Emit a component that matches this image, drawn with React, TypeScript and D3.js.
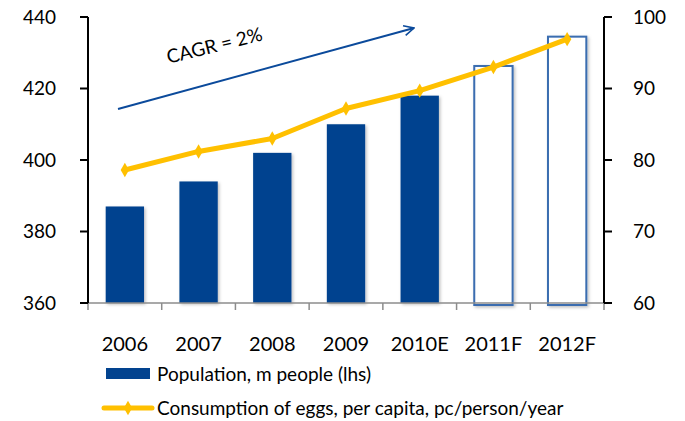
import React from 'react';
import * as d3 from 'd3';

const years = ['2006', '2007', '2008', '2009', '2010E', '2011F', '2012F'];
const population = [387, 394, 402, 410, 418, 426.3, 434.5];
const forecast = [false, false, false, false, false, true, true];
const eggs = [78.6, 81.2, 83.0, 87.2, 89.7, 93.0, 96.9];
const leftTicks = [360, 380, 400, 420, 440];
const rightTicks = [60, 70, 80, 90, 100];

const FONT = 'Lato, "Open Sans", sans-serif';

function App() {
  const margin = { top: 17, left: 88, right: 81, bottom: 118 };
  const W = 685;
  const H = 421;
  const x0 = margin.left;
  const x1 = W - margin.right;
  const yTop = margin.top;
  const yBot = H - margin.bottom;

  const x = d3.scaleBand().domain(years).range([x0, x1]).paddingInner(0.48).paddingOuter(0.24);
  const band = d3.scaleBand().domain(years).range([x0, x1]);
  const yL = d3.scaleLinear().domain([360, 440]).range([yBot, yTop]);
  const yR = d3.scaleLinear().domain([60, 100]).range([yBot, yTop]);

  const line = d3.line<number>()
    .x((_, i) => band(years[i])! + band.bandwidth() / 2)
    .y(d => yR(d));

  const diamond = d3.symbol().type(d3.symbolDiamond).size(60)();

  const blue = '#02438f';
  const outline = '#3a6db0';
  const yellow = '#ffc000';

  return (
    <svg width={W} height={H} style={{ position: 'absolute', left: 0, top: 0, background: '#fff' }}>
      <defs>
        <filter id="sh" x="-20%" y="-5%" width="140%" height="110%">
          <feDropShadow dx="1.5" dy="1.5" stdDeviation="1.5" floodColor="#000" floodOpacity="0.25" />
        </filter>
        <marker id="arr" viewBox="0 0 12 12" refX="11" refY="6" markerWidth="12" markerHeight="12"
          markerUnits="userSpaceOnUse" orient="auto">
          <path d="M1,1 L11,6 L1,11" fill="none" stroke="#0b4a9b" strokeWidth="1.6" />
        </marker>
      </defs>

      {/* bars */}
      {years.map((yr, i) =>
        forecast[i] ? (
          <rect key={yr} x={x(yr)} y={yL(population[i])} width={x.bandwidth()}
            height={yBot + 2 - yL(population[i])} fill="#fff" stroke={outline} strokeWidth={2}
            filter="url(#sh)" />
        ) : (
          <rect key={yr} x={x(yr)} y={yL(population[i])} width={x.bandwidth()}
            height={yBot - yL(population[i])} fill={blue} filter="url(#sh)" />
        )
      )}

      {/* bottom axis */}
      <line x1={x0} x2={x1} y1={yBot} y2={yBot} stroke="#8c8c8c" strokeWidth={1.5} />
      {years.map(yr => (
        <line key={yr} x1={band(yr)} x2={band(yr)} y1={yBot} y2={yBot + 7} stroke="#8c8c8c" strokeWidth={1.5} />
      ))}
      <line x1={x1} x2={x1} y1={yBot} y2={yBot + 7} stroke="#8c8c8c" strokeWidth={1.5} />
      {years.map(yr => (
        <text key={yr} x={band(yr)! + band.bandwidth() / 2} y={yBot + 48} textAnchor="middle"
          fontFamily={FONT} fontSize={20} fill="#000">{yr}</text>
      ))}

      {/* left axis */}
      <line x1={x0} x2={x0} y1={yTop} y2={yBot} stroke="#000" strokeWidth={2} />
      {leftTicks.map(t => (
        <g key={t}>
          <line x1={x0 - 8} x2={x0} y1={yL(t)} y2={yL(t)} stroke="#000" strokeWidth={2} />
          <text x={x0 - 32} y={yL(t)} dy="0.35em" textAnchor="end" fontFamily={FONT} fontSize={19}>{t}</text>
        </g>
      ))}

      {/* right axis */}
      <line x1={x1} x2={x1} y1={yTop} y2={yBot} stroke="#000" strokeWidth={2} />
      {rightTicks.map(t => (
        <g key={t}>
          <line x1={x1} x2={x1 + 8} y1={yR(t)} y2={yR(t)} stroke="#000" strokeWidth={2} />
          <text x={x1 + 29} y={yR(t)} dy="0.35em" textAnchor="start" fontFamily={FONT} fontSize={19}>{t}</text>
        </g>
      ))}

      {/* consumption line */}
      <path d={line(eggs)!} fill="none" stroke={yellow} strokeWidth={5} strokeLinejoin="round" />
      {eggs.map((v, i) => (
        <path key={i} d={diamond!} fill={yellow}
          transform={`translate(${band(years[i])! + band.bandwidth() / 2},${yR(v)})`} />
      ))}

      {/* CAGR arrow */}
      <line x1={118} y1={109} x2={414} y2={28} stroke="#0b4a9b" strokeWidth={2} markerEnd="url(#arr)" />
      <text x={216} y={52} textAnchor="middle" transform="rotate(-14 216 52)" fontFamily={FONT} fontSize={19}>
        CAGR = 2%
      </text>

      {/* legend */}
      <rect x={106} y={368} width={44} height={11} fill={blue} />
      <text x={157} y={374} dy="0.35em" fontFamily={FONT} fontSize={19}>Population, m people (lhs)</text>
      <line x1={104} x2={152} y1={408} y2={408} stroke={yellow} strokeWidth={5} strokeLinecap="round" />
      <path d={diamond!} fill={yellow} transform="translate(128,408)" />
      <text x={157} y={408} dy="0.35em" fontFamily={FONT} fontSize={19}>Consumption of eggs, per capita, pc/person/year</text>
    </svg>
  );
}

export default App;
